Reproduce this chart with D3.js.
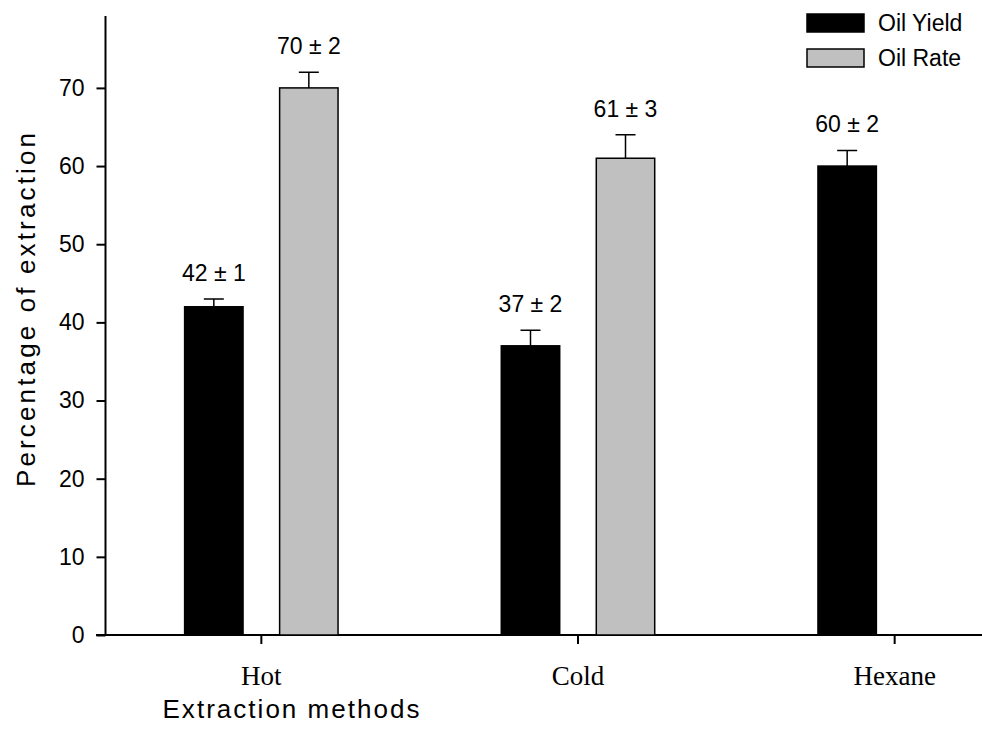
<!DOCTYPE html>
<html>
<head>
<meta charset="utf-8">
<script src="https://cdn.jsdelivr.net/npm/d3@7"></script>
<style>
  body { margin: 0; background: #fff; }
  svg { display: block; }
</style>
</head>
<body>
<script>
// chart data
const categories = ["Hot", "Cold", "Hexane"];
const seriesNames = ["Oil Yield", "Oil Rate"];
const oilYield = [42, 37, 60];
const oilYieldErr = [1, 2, 2];
const oilRate = [70, 61, null];   // no rate bar for hexane
const oilRateErr = [2, 3, null];
const yTicks = [0, 10, 20, 30, 40, 50, 60, 70];

const seriesColors = {"Oil Yield": "#000000", "Oil Rate": "#c0c0c0"};

let width = 982, height = 738;
let svg = null;
let x, xs, y = null;

const sans = "'Liberation Sans', Arial, Helvetica, sans-serif";
const serif = "'Liberation Serif', 'Times New Roman', serif";

appendSvg("body");
setupScales();
appendYAxis();
appendXAxis();
appendBars();
appendLegend();

function appendSvg(domElement) {
  svg = d3.select(domElement).append("svg")
    .attr("width", width)
    .attr("height", height);
}

function setupScales() {
  y = d3.scaleLinear()
    .domain([0, 79.2])
    .range([635, 16]);

  // one band per extraction method
  x = d3.scaleBand()
    .domain(categories)
    .range([103, 1053]);

  // bar offset inside each band
  xs = d3.scaleBand()
    .domain(seriesNames)
    .range([-95, 95])
    .paddingInner(0.385)
    .paddingOuter(0.1925);
}

function appendYAxis() {
  const g = svg.append("g")
    .attr("transform", "translate(105.5,0)")
    .call(d3.axisLeft(y).tickValues(yTicks).tickSize(9).tickPadding(12).tickFormat(d3.format("d")));

  g.select(".domain").remove();
  g.selectAll(".tick line").attr("stroke", "#000").attr("stroke-width", 2);
  g.selectAll(".tick text")
    .attr("fill", "#000")
    .style("font-family", sans)
    .style("font-size", "23px");

  g.append("line")
    .attr("x1", 0).attr("x2", 0)
    .attr("y1", y(79.2)).attr("y2", y(0))
    .attr("stroke", "#000").attr("stroke-width", 2);

  svg.append("text")
    .attr("transform", `translate(35, ${310}) rotate(-90)`)
    .attr("text-anchor", "middle")
    .attr("textLength", 354)
    .attr("lengthAdjust", "spacing")
    .style("font-family", sans)
    .style("font-size", "26px")
    .text("Percentage of extraction");
}

function appendXAxis() {
  const g = svg.append("g")
    .attr("transform", `translate(0, ${y(0)})`)
    .call(d3.axisBottom(x).tickSize(9).tickPadding(22));

  g.select(".domain").remove();
  g.selectAll(".tick line").attr("stroke", "#000").attr("stroke-width", 2);
  g.selectAll(".tick text")
    .attr("fill", "#000")
    .style("font-family", serif)
    .style("font-size", "27px");

  g.append("line")
    .attr("x1", 96).attr("x2", width)
    .attr("y1", 0).attr("y2", 0)
    .attr("stroke", "#000").attr("stroke-width", 2);

  svg.append("text")
    .attr("x", 291)
    .attr("y", 718)
    .attr("text-anchor", "middle")
    .attr("textLength", 257)
    .attr("lengthAdjust", "spacing")
    .style("font-family", sans)
    .style("font-size", "26px")
    .text("Extraction methods");
}

function appendBars() {
  // flatten the arrays into one row per bar
  const rows = [];
  categories.forEach((c, i) => {
    rows.push({cat: c, series: "Oil Yield", value: oilYield[i], err: oilYieldErr[i]});
    if (oilRate[i] != null)
      rows.push({cat: c, series: "Oil Rate", value: oilRate[i], err: oilRateErr[i]});
  });

  const cx = d => x(d.cat) + x.bandwidth() / 2 + xs(d.series) + xs.bandwidth() / 2;

  // error bars go first so the bar outline sits on top
  svg.selectAll(".err")
    .data(rows).enter()
    .append("path")
    .attr("class", "err")
    .attr("d", d => {
      const c = cx(d), t = y(d.value + d.err);
      return `M${c},${y(d.value)}V${t}M${c - 10},${t}H${c + 10}`;
    })
    .attr("fill", "none")
    .attr("stroke", "#000")
    .attr("stroke-width", 1.5);

  svg.selectAll(".bar")
    .data(rows).enter()
    .append("rect")
    .attr("class", "bar")
    .attr("x", d => x(d.cat) + x.bandwidth() / 2 + xs(d.series))
    .attr("y", d => y(d.value))
    .attr("width", xs.bandwidth())
    .attr("height", d => y(0) - y(d.value))
    .attr("fill", d => seriesColors[d.series])
    .attr("stroke", "#000")
    .attr("stroke-width", 1.5);

  svg.selectAll(".val")
    .data(rows).enter()
    .append("text")
    .attr("class", "val")
    .attr("x", cx)
    .attr("y", d => y(d.value + d.err) - 18)
    .attr("text-anchor", "middle")
    .style("font-family", sans)
    .style("font-size", "23px")
    .text(d => `${d.value} ± ${d.err}`);
}

function appendLegend() {
  const lg = svg.append("g").attr("transform", "translate(807, 14)");
  const item = lg.selectAll("g")
    .data(seriesNames).enter()
    .append("g")
    .attr("transform", (d, i) => `translate(0, ${i * 35})`);

  item.append("rect")
    .attr("width", 57)
    .attr("height", 18)
    .attr("fill", d => seriesColors[d])
    .attr("stroke", "#000")
    .attr("stroke-width", 1.5);

  item.append("text")
    .attr("x", 71)
    .attr("y", 9)
    .attr("dy", "0.36em")
    .style("font-family", sans)
    .style("font-size", "23px")
    .text(d => d);
}
</script>
</body>
</html>
